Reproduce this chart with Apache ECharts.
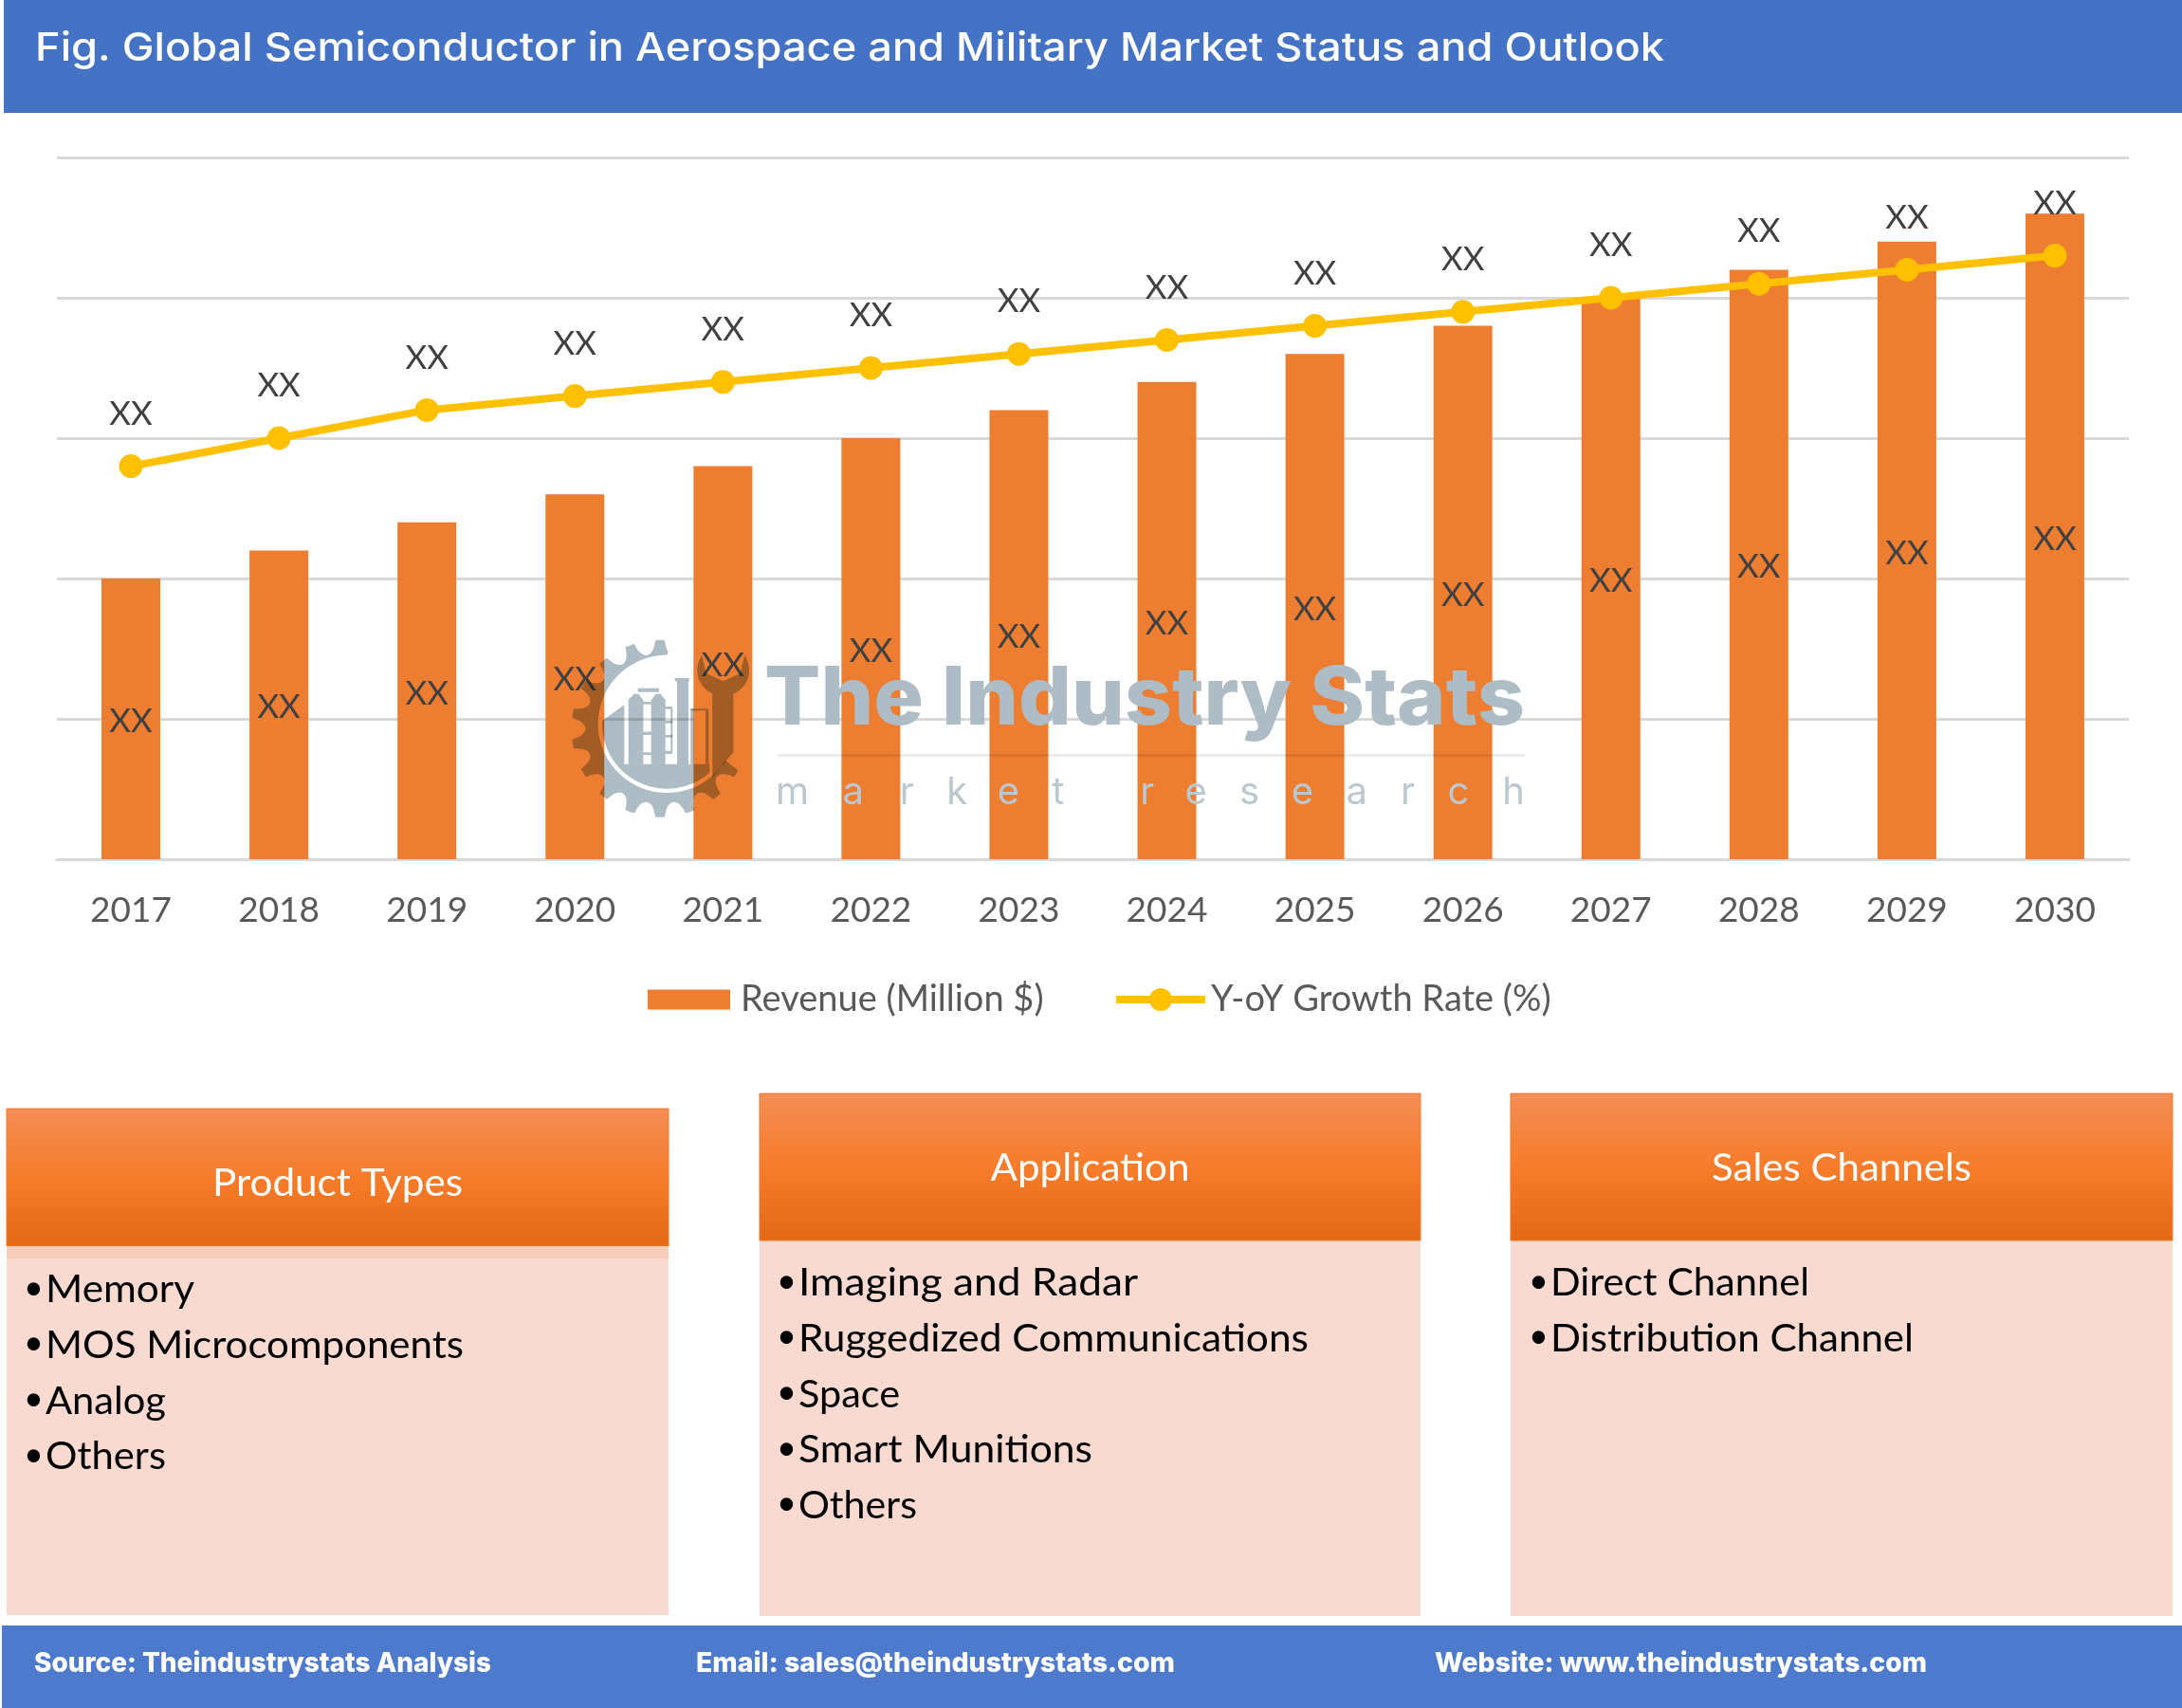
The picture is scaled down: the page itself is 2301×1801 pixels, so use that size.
<!DOCTYPE html>
<html><head><meta charset="utf-8">
<style>html,body{margin:0;padding:0;background:#fff}#c{width:2301px;height:1801px}</style>
<script src="https://cdn.jsdelivr.net/npm/echarts@6/dist/echarts.min.js"></script>
</head><body><div id="c"></div>
<script>
const titleText = 'Fig. Global Semiconductor in Aerospace and Military Market Status and Outlook';
const years = ['2017','2018','2019','2020','2021','2022','2023','2024','2025','2026','2027','2028','2029','2030'];
const revenue = [200,220,240,260,280,300,320,340,360,380,400,420,440,460];
const growth = [280,300,320,330,340,350,360,370,380,390,400,410,420,430];
const valueLabel = 'XX';
const productTypes = ['Memory','MOS Microcomponents','Analog','Others'];
const applications = ['Imaging and Radar','Ruggedized Communications','Space','Smart Munitions','Others'];
const salesChannels = ['Direct Channel','Distribution Channel'];

const measure = document.createElement('canvas').getContext('2d');
function fitX(text, font, target){ measure.font = font; return target / measure.measureText(text).width; }
const UI = 'Lato', HEAD = 'Inter';

function txt(x, y, text, size, color, opts){
  opts = opts || {};
  const weight = opts.weight || 400, family = opts.family || UI;
  const sx = opts.w ? fitX(text, weight+' '+size+'px '+family, opts.w) : 1;
  return {type:'text', x:x, y:y, scaleX:sx, z:opts.z||20, style:{text:text, fill:color, fontSize:size, fontWeight:weight,
    fontFamily:family, align:opts.align||'left', verticalAlign:'middle', blend:opts.blend}};
}
function rect(x,y,w,h,fill,extra){ return Object.assign({type:'rect', z:5, shape:{x,y,width:w,height:h}, style:{fill}}, extra||{}); }
function vgrad(){ return {type:'linear',x:0,y:0,x2:0,y2:1,colorStops:[{offset:0,color:'#f48d56'},{offset:.5,color:'#f67c2a'},{offset:1,color:'#e56915'}]}; }

function panel(x,w,top,headBottom,bottom,title,titleW,titleY,items,firstY,textX,wList,stripe){
  const out=[ rect(x,headBottom,w,bottom-headBottom,'#f9dad1'),
    rect(x,top,w,headBottom-top,vgrad(),{style:{fill:vgrad(),stroke:'#ed7d31',lineWidth:1}}) ];
  if(stripe) out.push(rect(x,headBottom,w,stripe,'#f6ccbb',{z:6}));
  out.push(txt(x+w/2,titleY,title,41,'#fff',{align:'center',w:titleW}));
  items.forEach((t,i)=>{
    const y=firstY+i*58.7;
    out.push(txt(textX-23,y-2,'•',36,'#000'));
    out.push(txt(textX,y,t,41,'#000',{w:wList[i]}));
  });
  return out;
}

/* watermark, drawn in 3x local coordinates */
const wm='#aebcc5';
const pol=(cx,cy,r,d)=>[cx+r*Math.cos(d*Math.PI/180),cy+r*Math.sin(d*Math.PI/180)];
function gearBand(){
  const pts=[];
  for(let d=-84;d>=-332;d-=1){
    const p=((((d-90)/20)%1)+1)%1, u=(p-.5)/.33;
    const r=280-(Math.abs(u)<1?44*Math.sqrt(1-u*u):0);
    pts.push(pol(318,325,r,d));
  }
  for(let d=-328;d<=-90;d+=2) pts.push(pol(340,310,218,d));
  return pts;
}
function disc(){
  const pts=[];
  for(let d=48.8;d<=184;d+=2) pts.push(pol(340,310,205,d));
  pts.push([205,250],[205,437],[475,437],[475,464]);
  return pts;
}
function wrench(){
  const pts=[];
  for(let d=-145;d>=-245;d-=4) pts.push(pol(518,140,82,d));
  pts.push([484,480],[550,400],[550,212]);
  for(let d=65;d>=-35;d-=4) pts.push(pol(518,140,82,d));
  pts.push([572,150],[518,175],[464,150]);
  return pts;
}
const towerPolys=[
  [[218,437],[218,235],[235,215],[250,215],[265,235],[265,437]],
  [[290,437],[290,235],[305,215],[320,215],[335,235],[335,437]]
];
const towerRects=[[248,197,67,12],[265,335,25,10],[265,400,25,8],[265,240,25,8],[335,255,22,8],[335,300,22,8],[335,345,22,8],[335,395,22,10],[352,262,6,133],
  [372,175,36,262],[365,165,45,10],[415,262,10,175],[415,262,57,6],[462,268,10,169]];
const mult=(o)=>Object.assign(o,{z:100});
const logoChildren=[
  mult({type:'polygon',shape:{points:gearBand()},style:{fill:wm,blend:'multiply'}}),
  mult({type:'polygon',shape:{points:disc()},style:{fill:wm,blend:'multiply'}}),
  mult({type:'polygon',shape:{points:wrench()},style:{fill:wm,blend:'multiply'}})
].concat(towerPolys.map(p=>mult({type:'polygon',shape:{points:p},style:{fill:wm,blend:'multiply'}})))
 .concat(towerRects.map(r=>mult({type:'rect',shape:{x:r[0],y:r[1],width:r[2],height:r[3]},style:{fill:wm,blend:'multiply'}})));
const marketLetters=[['m',40],['a',175],['r',290],['k',385],['e',487],['t',597],['r',775],['e',865],['s',975],['e',1080],['a',1190],['r',1300],['c',1395],['h',1505]];

const graphics=[
  rect(4,0,2297,119,'#4472c4'),
  txt(37,52,titleText,41,'#fff',{family:HEAD,weight:500,w:1718}),
  rect(2,1714,2299,87,'#4e7ace'),
  txt(36,1754,'Source: Theindustrystats Analysis',29,'#fff',{family:HEAD,weight:800,w:482}),
  txt(734,1754,'Email: sales@theindustrystats.com',29,'#fff',{family:HEAD,weight:800,w:505}),
  txt(1513,1754,'Website: www.theindustrystats.com',29,'#fff',{family:HEAD,weight:800,w:519})
].concat(
  panel(7,698,1169,1314,1703,'Product Types',264,1248,productTypes,1360,48,[157,441,127,127],13),
  panel(801,697,1153,1308,1704,'Application',210,1232,applications,1353,842,[358,538,107,310,125]),
  panel(1593,698,1153,1308,1704,'Sales Channels',274,1232,salesChannels,1353,1635,[273,383])
);
graphics.push({type:'group',x:590,y:660,scaleX:1/3,scaleY:1/3,z:100,children:logoChildren});
graphics.push(txt(806,738,'The Industry Stats',85,wm,{family:HEAD,weight:800,w:802,z:100,blend:'multiply'}));
graphics.push(rect(820,795,788,3,'#e9edf0',{z:100,style:{fill:'#e9edf0',blend:'multiply'}}));
marketLetters.forEach(m=>graphics.push(txt(797+m[1]/1.912,836,m[0],40,'#bcc8cf',{family:HEAD,weight:400,z:100,blend:'multiply'})));

const chart=echarts.init(document.getElementById('c'),null,{renderer:'canvas',width:2301,height:1801});
chart.setOption({
  animation:false,
  backgroundColor:'#ffffff',
  textStyle:{fontFamily:UI},
  grid:{left:60,right:56,top:166,bottom:895,containLabel:false},
  legend:[
    {left:678,top:1030,itemWidth:87,itemHeight:21,
      textStyle:{fontFamily:UI,fontSize:38,color:'#595959',padding:[0,0,0,6]},
      data:[{name:'Revenue (Million $)',icon:'rect'}]},
    {left:1168,top:1030,itemWidth:94,itemHeight:30,
      lineStyle:{width:8},
      textStyle:{fontFamily:UI,fontSize:38,color:'#595959',padding:[0,0,0,1]},
      data:[{name:'Y-oY Growth Rate (%)'}]}
  ],
  xAxis:{type:'category',data:years,
    axisLine:{lineStyle:{color:'#d9d9d9',width:3}},axisTick:{show:false},
    axisLabel:{fontFamily:UI,fontSize:37,color:'#595959',margin:36}},
  yAxis:{type:'value',min:0,max:500,interval:100,axisLabel:{show:false},axisLine:{show:false},axisTick:{show:false},
    splitLine:{lineStyle:{color:'#d9d9d9',width:3}}},
  series:[
    {name:'Revenue (Million $)',type:'bar',data:revenue,barWidth:62,itemStyle:{color:'#ed7d31'},
      label:{show:true,position:'inside',offset:[0,3],formatter:valueLabel,fontFamily:UI,fontSize:35,color:'#404040'}},
    {name:'Y-oY Growth Rate (%)',type:'line',data:growth,symbol:'circle',symbolSize:25,
      lineStyle:{color:'#ffc000',width:8},itemStyle:{color:'#ffc000'},
      label:{show:true,position:'top',distance:25,formatter:valueLabel,fontFamily:UI,fontSize:35,color:'#404040'}}
  ],
  graphic:{elements:graphics}
});
</script></body></html>
